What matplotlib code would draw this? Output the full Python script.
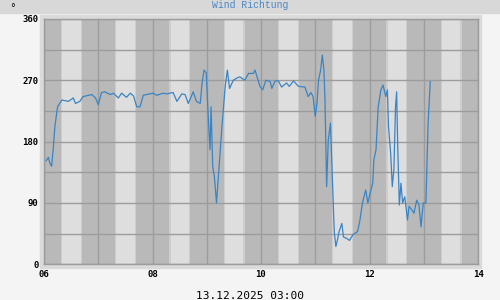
import matplotlib
matplotlib.use("Agg")
import matplotlib.pyplot as plt
from matplotlib.patches import Rectangle

# time of day in hours, wind direction in degrees
hours = [
    6.04, 6.08, 6.11, 6.14, 6.17, 6.20, 6.25, 6.33, 6.45, 6.54, 6.58, 6.66, 6.72, 6.88, 6.95,
    7.00, 7.06, 7.12, 7.22, 7.28, 7.37, 7.43, 7.52, 7.59, 7.65, 7.71, 7.77, 7.83,
    8.01, 8.08, 8.20, 8.26, 8.38, 8.45, 8.54, 8.60, 8.66, 8.75, 8.81, 8.88, 8.91, 8.95, 8.99,
    9.03, 9.06, 9.08, 9.11, 9.14, 9.18, 9.21, 9.28, 9.34, 9.38, 9.42, 9.49, 9.55, 9.61, 9.70,
    9.77, 9.86, 9.89, 9.98,
    10.03, 10.09, 10.17, 10.20, 10.26, 10.32, 10.38, 10.47, 10.52, 10.60, 10.69, 10.81, 10.87,
    10.92, 10.96,
    11.00, 11.03, 11.06, 11.10, 11.13, 11.16, 11.18, 11.20, 11.21, 11.24, 11.28, 11.31, 11.33,
    11.35, 11.38, 11.41, 11.44, 11.49, 11.52, 11.58, 11.63, 11.70, 11.78, 11.82, 11.87, 11.93,
    11.97,
    12.01, 12.06, 12.08, 12.12, 12.16, 12.21, 12.25, 12.30, 12.33, 12.35, 12.39, 12.42, 12.45,
    12.48, 12.50, 12.52, 12.55, 12.58, 12.61, 12.65, 12.70, 12.73, 12.78, 12.82, 12.87, 12.91,
    12.95, 12.99,
    13.04, 13.08, 13.12,
]
direction = [
    152, 157, 148, 144, 169, 202, 231, 241, 239, 244, 236, 239, 246, 249, 244,
    234, 252, 253, 249, 251, 244, 251, 245, 251, 247, 231, 231, 248,
    251, 248, 251, 250, 252, 239, 250, 249, 236, 253, 239, 236, 263, 285, 281,
    212, 168, 231, 143, 129, 90, 124, 202, 261, 285, 258, 270, 273, 275, 270,
    280, 280, 285, 261,
    256, 270, 268, 258, 269, 269, 260, 266, 261, 269, 261, 260, 246,
    252, 246,
    217, 234, 270, 285, 307, 285, 239, 158, 114, 182, 207, 138, 92,
    48, 26, 36, 48, 60, 40, 38, 35, 44, 48, 63, 90, 109,
    90,
    104, 119, 153, 168, 231, 256, 263, 246, 256, 202, 163, 114, 140,
    231, 253, 173, 87, 119, 90, 99, 65, 85, 80, 75, 94, 88,
    55, 90,
    90, 207, 268,
]

y_ticks = [0, 90, 180, 270, 360]
x_ticks = [6, 8, 10, 12, 14]
x_labels = ["06", "08", "10", "12", "14"]
title = "Wind Richtung"
unit = "°"
date_label = "13.12.2025 03:00"

fig = plt.figure(figsize=(5, 3), dpi=100, facecolor="#f4f4f4")

# title bar and frame around the plot
fig.add_artist(Rectangle((0, 0.958), 1, 0.042, transform=fig.transFigure,
                         color="#d8d8d8", zorder=0))
fig.add_artist(Rectangle((0.080, 0.107), 0.882, 0.843, transform=fig.transFigure,
                         color="#dadada", zorder=0))

ax = fig.add_axes([0.088, 0.119, 0.868, 0.818])
ax.set_facecolor("#b9b9b9")

# light stripes in each hour
for h in range(6, 14):
    ax.axvspan(h + 0.31, h + 0.70, color="#cdcdcd", lw=0, zorder=0)
    ax.axvspan(h + 0.335, h + 0.675, color="#dedede", lw=0, zorder=0)

for h in range(6, 15):
    ax.axvline(h, color="#9c9c9c", lw=1, zorder=1)
for v in range(0, 361, 45):
    ax.axhline(v, color="#9c9c9c", lw=1, zorder=1)

ax.plot(hours, direction, color="#3a84c4", lw=0.9, zorder=3)

ax.set_xlim(6, 14)
ax.set_ylim(0, 360)
ax.set_xticks(x_ticks)
ax.set_xticklabels(x_labels)
ax.set_yticks(y_ticks)
ax.tick_params(length=0, labelsize=6.5, pad=4)
for lab in ax.get_xticklabels() + ax.get_yticklabels():
    lab.set_family("DejaVu Sans Mono")
    lab.set_fontweight("bold")
for s in ax.spines.values():
    s.set_color("#9c9c9c")
    s.set_linewidth(1)

fig.text(0.5, 0.983, title, ha="center", va="center", color="#4a88c8",
         fontsize=7, family="Liberation Mono")
fig.text(0.025, 0.972, unit, ha="center", va="center", color="black", fontsize=7)
fig.text(0.5, 0.014, date_label, ha="center", va="center", color="black",
         fontsize=8, family="DejaVu Sans Mono")

fig.savefig("out.png", dpi=100, facecolor=fig.get_facecolor())
